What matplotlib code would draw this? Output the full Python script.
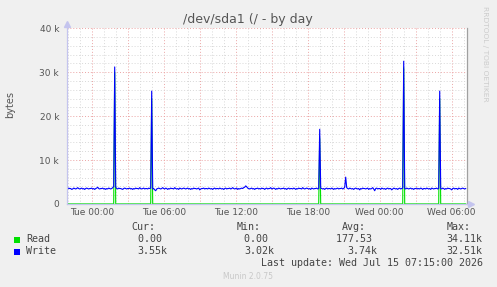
import matplotlib
matplotlib.use("Agg")
import matplotlib.pyplot as plt
from matplotlib.patches import Rectangle
import numpy as np

# amostras a cada 5 min, a partir de Tue 00:00 - 2h05 (horas)
t0 = -2.0833
passo = 1 / 12

# Write (k bytes)
write = [
    3.5, 3.4, 3.6, 3.5, 3.5, 3.3, 3.4, 3.6, 3.5, 3.4, 3.5, 3.7, 3.5, 3.4, 3.5, 3.6, 3.4, 3.5, 3.3, 3.5,
    3.6, 3.5, 3.4, 3.5, 3.5, 3.6, 3.4, 3.5, 3.3, 3.5, 3.6, 3.8, 3.5, 3.4, 3.5, 3.5, 3.6, 3.4, 3.5, 3.3,
    3.5, 3.4, 3.6, 3.5, 3.4, 3.5, 3.7, 4.0, 31.2, 3.8, 3.5, 3.4, 3.6, 3.5, 3.5, 3.4, 3.3, 3.5, 3.6, 3.5,
    3.4, 3.5, 3.5, 3.6, 3.4, 3.5, 3.3, 3.5, 3.4, 3.6, 3.5, 3.5, 3.4, 3.7, 3.5, 3.4, 3.5, 3.6, 3.4, 3.5,
    3.5, 3.4, 3.6, 3.5, 3.6, 25.7, 3.4, 3.5, 3.2, 3.0, 3.4, 3.5, 3.6, 3.5, 3.4, 3.5, 3.7, 3.5, 3.4, 3.6,
    3.5, 3.3, 3.5, 3.4, 3.6, 3.5, 3.5, 3.4, 3.7, 3.5, 3.4, 3.5, 3.3, 3.6, 3.5, 3.4, 3.5, 3.6, 3.5, 3.4,
    3.5, 3.6, 3.4, 3.5, 3.3, 3.5, 3.4, 3.6, 3.5, 3.5, 3.4, 3.5, 3.6, 3.2, 3.4, 3.5, 3.5, 3.6, 3.4, 3.5,
    3.5, 3.4, 3.6, 3.5, 3.4, 3.5, 3.3, 3.5, 3.6, 3.4, 3.5, 3.5, 3.4, 3.6, 3.5, 3.4, 3.5, 3.3, 3.5, 3.6,
    3.4, 3.5, 3.5, 3.6, 3.4, 3.5, 3.7, 3.5, 3.4, 3.5, 3.6, 3.3, 3.5, 3.4, 3.5, 3.6, 3.5, 3.7, 3.8, 4.1,
    3.9, 3.6, 3.5, 3.4, 3.5, 3.6, 3.4, 3.5, 3.3, 3.5, 3.5, 3.6, 3.4, 3.5, 3.4, 3.6, 3.5, 3.5, 3.3, 3.5,
    3.6, 3.4, 3.5, 3.5, 3.7, 3.4, 3.5, 3.6, 3.5, 3.3, 3.5, 3.4, 3.6, 3.5, 3.4, 3.5, 3.5, 3.6, 3.4, 3.5,
    3.3, 3.5, 3.6, 3.4, 3.5, 3.5, 3.4, 3.6, 3.5, 3.3, 3.5, 3.4, 3.6, 3.5, 3.5, 3.4, 3.7, 3.5, 3.4, 3.5,
    3.6, 3.5, 3.4, 3.5, 3.3, 3.6, 3.5, 3.4, 3.5, 3.5, 3.6, 3.4, 3.5, 17.0, 3.6, 3.5, 3.4, 3.5, 3.3, 3.5,
    3.6, 3.4, 3.5, 3.5, 3.4, 3.6, 3.5, 3.3, 3.5, 3.4, 3.5, 3.6, 3.4, 3.5, 3.5, 3.6, 3.4, 3.5, 3.8, 6.1,
    3.7, 3.5, 3.4, 3.6, 3.5, 3.4, 3.5, 3.3, 3.5, 3.6, 3.5, 3.4, 3.5, 3.2, 3.5, 3.4, 3.6, 3.5, 3.5, 3.4,
    3.5, 3.6, 3.3, 3.5, 3.4, 3.5, 3.7, 3.4, 3.0, 3.5, 3.6, 3.4, 3.5, 3.5, 3.3, 3.6, 3.5, 3.4, 3.5, 3.3,
    3.5, 3.6, 3.4, 3.5, 3.5, 3.2, 3.4, 3.6, 3.5, 3.4, 3.5, 3.3, 3.5, 3.6, 3.4, 3.5, 3.6, 32.5, 3.5, 3.4,
    3.6, 3.5, 3.4, 3.5, 3.6, 3.4, 3.5, 3.3, 3.5, 3.5, 3.6, 3.4, 3.5, 3.4, 3.6, 3.5, 3.3, 3.5, 3.5, 3.4,
    3.6, 3.5, 3.4, 3.5, 3.3, 3.6, 3.5, 3.4, 3.5, 3.5, 3.6, 3.4, 3.5, 25.7, 3.5, 3.4, 3.6, 3.5, 3.3, 3.5,
    3.4, 3.6, 3.5, 3.5, 3.4, 3.2, 3.5, 3.6, 3.4, 3.5, 3.5, 3.3, 3.6, 3.5, 3.4, 3.5, 3.6, 3.5, 3.4, 3.5,
]

# Read (k bytes): zero fora dos picos
read_picos = {48: 30.0, 85: 24.0, 253: 15.0, 337: 31.0, 373: 24.0}

x_ticks = [0, 6, 12, 18, 24, 30]
x_labels = ["Tue 00:00", "Tue 06:00", "Tue 12:00", "Tue 18:00", "Wed 00:00", "Wed 06:00"]
y_ticks = [0, 10000, 20000, 30000, 40000]
y_labels = ["0", "10 k", "20 k", "30 k", "40 k"]

legenda_nomes = ["Read", "Write"]
legenda_cores = ["#00e000", "#0000ff"]
cur = ["0.00", "3.55k"]
minimo = ["0.00", "3.02k"]
media = ["177.53", "3.74k"]
maximo = ["34.11k", "32.51k"]

W, H = 497, 287
n = len(write)
t = t0 + passo * np.arange(n)
w = np.array(write) * 1000
r = np.zeros(n)
for i, v in read_picos.items():
    r[i] = v * 1000

fig = plt.figure(figsize=(W / 100, H / 100), dpi=100, facecolor="#f0f0f0")
ax = fig.add_axes([66.7 / W, (H - 203.9) / H, 400 / W, 175.6 / H])
ax.set_facecolor("white")

ax.plot(t, r, color=legenda_cores[0], lw=0.8, zorder=2)
ax.plot(t, w, color=legenda_cores[1], lw=0.8, zorder=2)

ax.set_xlim(-2.083, 31.25)
ax.set_ylim(0, 40000)

ax.set_xticks(np.arange(0, 31, 3))
ax.set_xticklabels([x_labels[x_ticks.index(v)] if v in x_ticks else "" for v in range(0, 31, 3)])
ax.set_xticks(np.arange(-2, 32, 1), minor=True)
ax.set_yticks(y_ticks)
ax.set_yticklabels(y_labels)
ax.set_yticks(np.arange(0, 40001, 2000), minor=True)

ax.set_axisbelow(True)
ax.grid(which="minor", color="#d8d8d8", linestyle=(0, (1, 2)), lw=0.7)
ax.grid(which="major", color="#eba4a4", linestyle=(0, (1, 2)), lw=0.7)

ax.tick_params(which="both", length=0, labelsize=6.5, labelcolor="#555555")
ax.tick_params(axis="x", pad=3)
ax.tick_params(axis="y", pad=5.5)

ax.spines["top"].set_visible(False)
ax.spines["right"].set_color("#a0a0a0")
ax.spines["left"].set_color("#c4c4ee")
ax.spines["bottom"].set_color("#c4c4ee")
for s in ax.spines.values():
    s.set_linewidth(0.9)

# setas dos eixos
ax.plot([-2.083], [41000], marker="^", ms=4, color="#c4c4ee", clip_on=False, zorder=5)
ax.plot([31.6], [0], marker=">", ms=4, color="#c4c4ee", clip_on=False, zorder=5)

cinza = "#555555"
fig.text(247.7 / W, 1 - 19 / H, "/dev/sda1 (/ - by day", ha="center", va="center",
         fontsize=9, color=cinza)
fig.text(10 / W, 1 - 105 / H, "bytes", rotation=90, ha="center", va="center",
         fontsize=7, color=cinza)
fig.text(485 / W, 1 - 53.5 / H, "RRDTOOL / TOBI OETIKER", rotation=270, ha="center",
         va="center", fontsize=5.4, color="#cccccc")

mono = dict(family="DejaVu Sans Mono", fontsize=7.2, color="#444444", va="center")
for txt, x in zip(["Cur:", "Min:", "Avg:", "Max:"], [131.7, 236.7, 341.7, 446.7]):
    fig.text(x / W, 1 - 227.3 / H, txt, **mono)

linhas_y = [239.5, 251.5]
for k in range(2):
    y = linhas_y[k]
    fig.add_artist(Rectangle((14 / W, 1 - (y + 3) / H), 6 / W, 6 / H,
                             transform=fig.transFigure, color=legenda_cores[k], lw=0))
    fig.text(26 / W, 1 - y / H, legenda_nomes[k], **mono)
    for txt, x in zip([cur[k], minimo[k], media[k], maximo[k]], [167.7, 274, 377.7, 482.7]):
        if not txt.endswith("k"):
            txt = txt + " "
        fig.text(x / W, 1 - y / H, txt, ha="right", **mono)

fig.text(483.3 / W, 1 - 263 / H, "Last update: Wed Jul 15 07:15:00 2026", ha="right", **mono)
fig.text(223 / W, 1 - 276.7 / H, "Munin 2.0.75", ha="left", va="center",
         fontsize=5.5, color="#c8c8c8")

fig.savefig("out.png", dpi=100, facecolor=fig.get_facecolor())
